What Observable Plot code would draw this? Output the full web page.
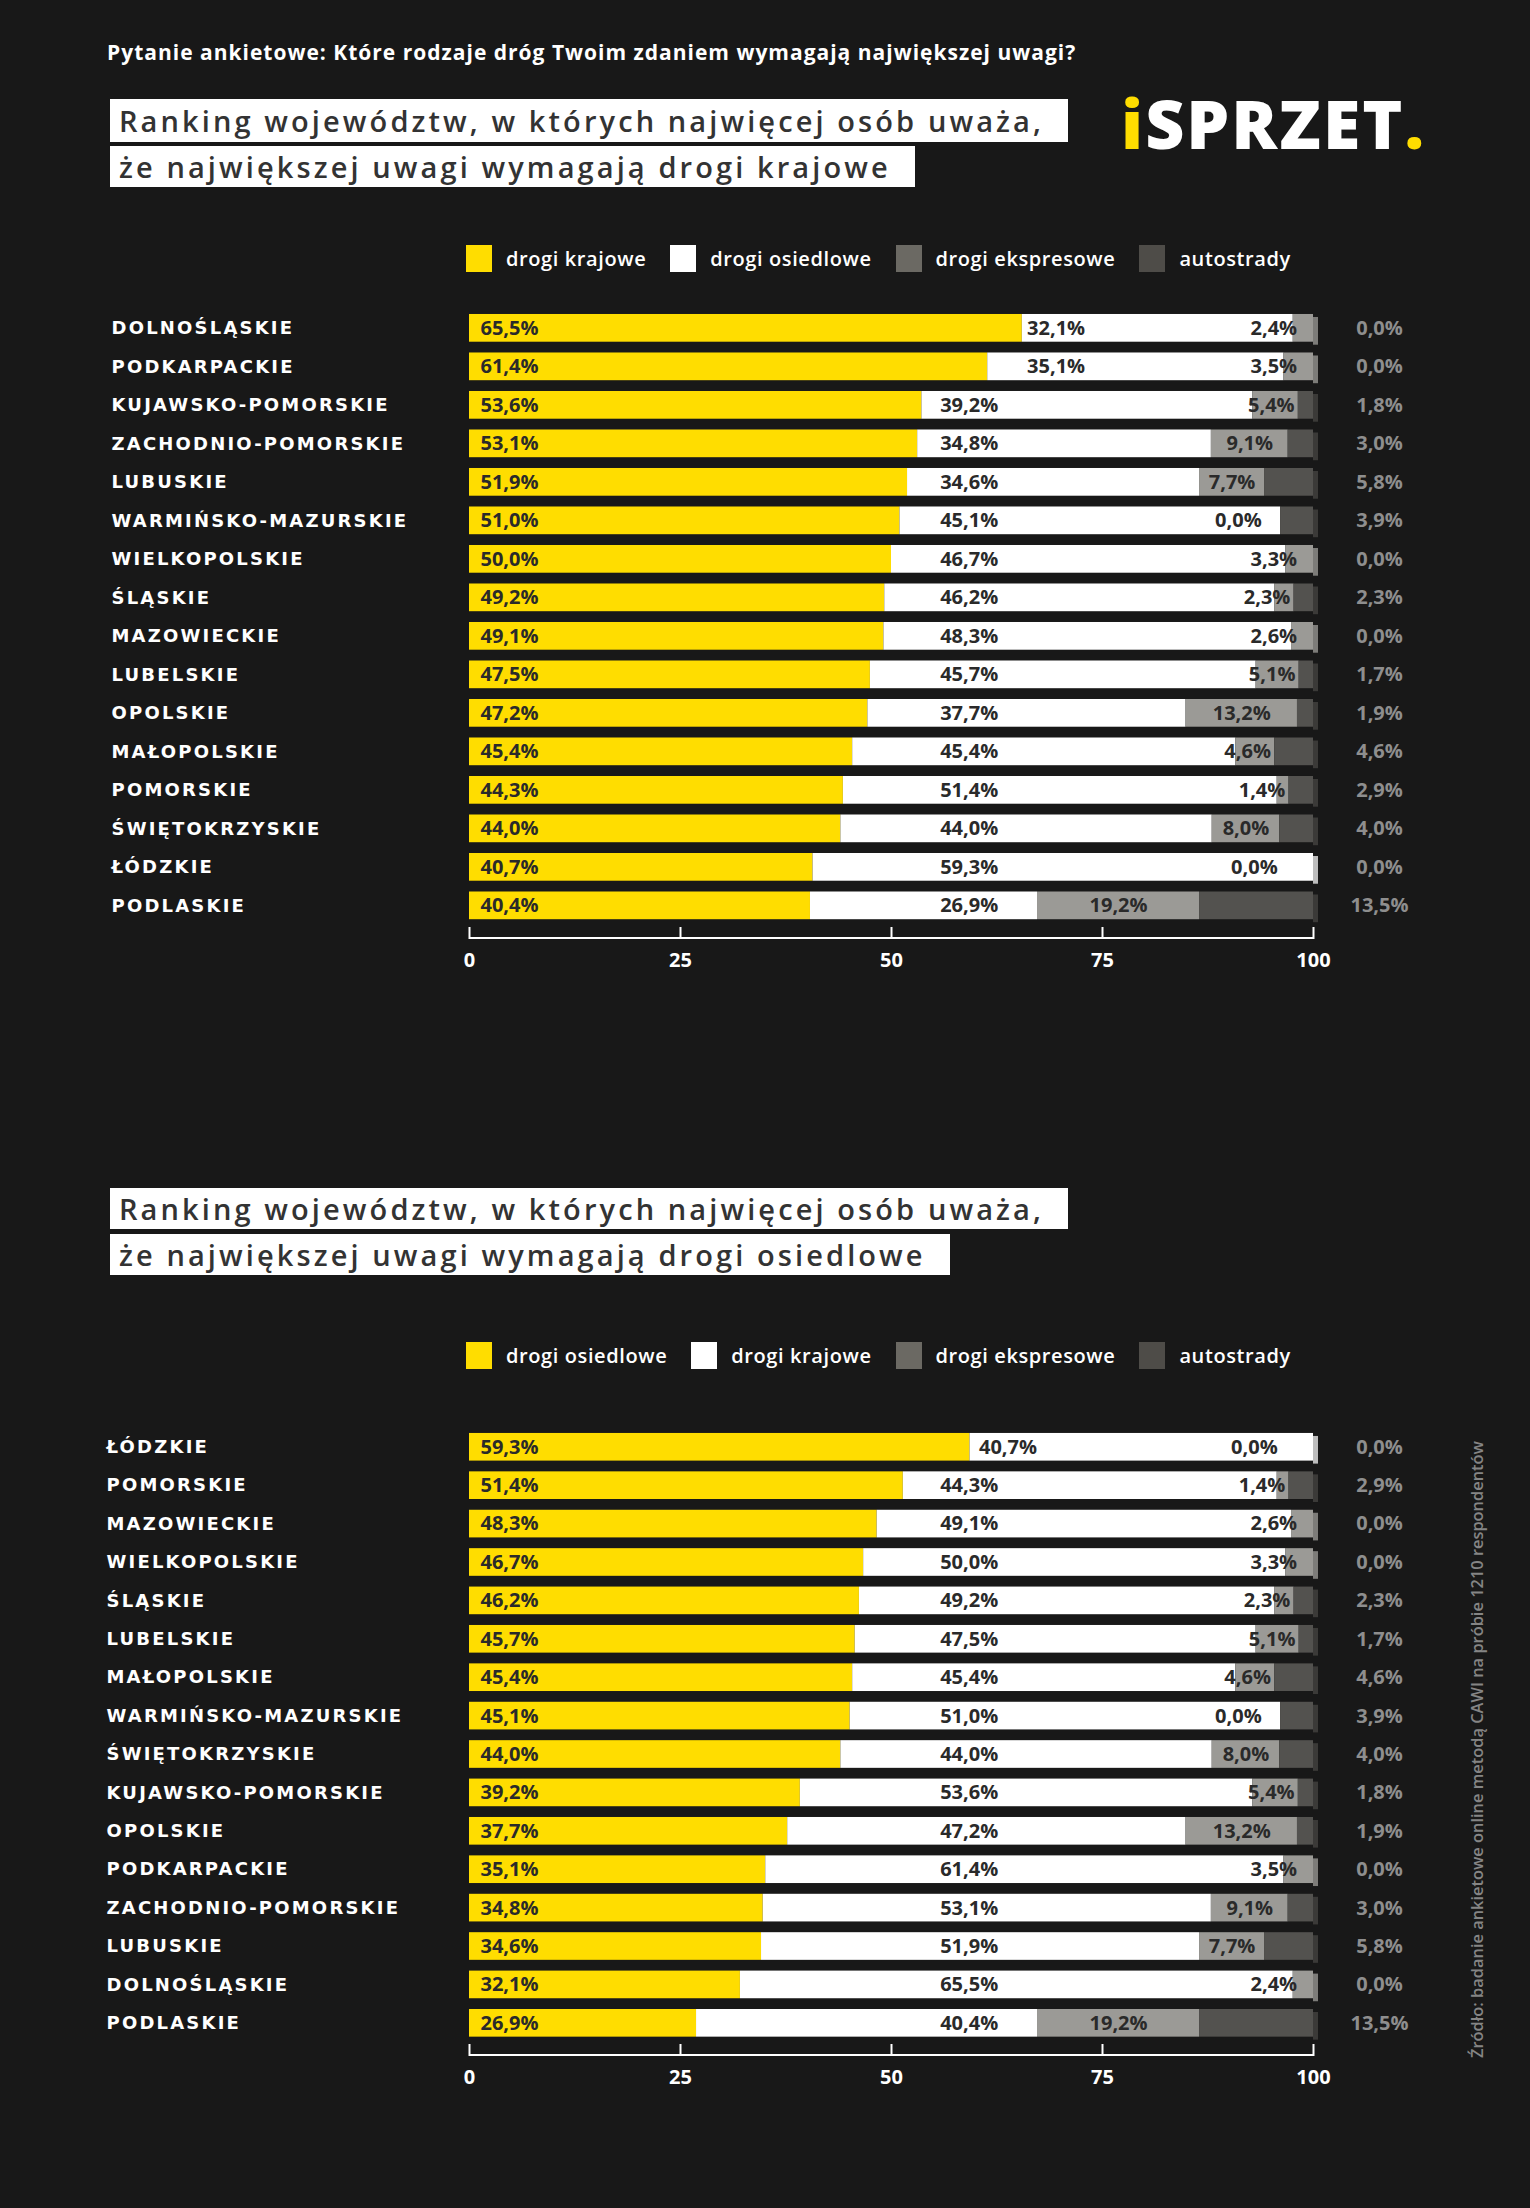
<!DOCTYPE html>
<html>
<head>
<meta charset="utf-8">
<script src="https://cdn.jsdelivr.net/npm/d3@7"></script>
<script src="https://cdn.jsdelivr.net/npm/@observablehq/plot@0.6"></script>
<style>
  html, body { margin: 0; padding: 0; background: #181818; }
  #page { position: relative; width: 1530px; height: 2208px; background: #181818; overflow: hidden; font-family: 'Open Sans', sans-serif; }
  .abs { position: absolute; }
  .subtitle { left: 107px; top: 38px; color: #fff; font-weight: 700; font-size: 21px; line-height: 28px; letter-spacing: 1px; white-space: nowrap; }
  .tbox { background: #fff; color: #333; font-family: 'Open Sans', sans-serif; font-weight: 600; font-size: 29px; letter-spacing: 3.1px; white-space: nowrap; padding: 0 24px 0 9px; box-sizing: border-box; display: flex; align-items: center; }
  .logo { left: 1121px; top: 89px; font-weight: 800; font-size: 68px; line-height: 68px; color: #fff; letter-spacing: 2px; white-space: nowrap; }
  .logo .y { color: #FFDD00; }
  .legend { display: flex; align-items: center; height: 27px; color: #fff; font-weight: 600; font-size: 20px; letter-spacing: 0.6px; white-space: nowrap; }
  .legend .sw { width: 26px; height: 27px; margin-right: 14px; }
  .legend .it { display: flex; align-items: center; margin-right: 24px; }
  .plotwrap { left: 0; }
  .source { color: #858585; font-weight: 600; font-size: 16.4px; line-height: 20px; white-space: nowrap; transform-origin: 0 0; transform: rotate(-90deg); }
</style>
</head>
<body>
<div id="page">
  <div class="abs subtitle">Pytanie ankietowe: Które rodzaje dróg Twoim zdaniem wymagają największej uwagi?</div>

  <div class="abs tbox" style="left:110px; top:99px; height:43px;">Ranking województw, w których najwięcej osób uważa,</div>
  <div class="abs tbox" style="left:110px; top:146px; height:41px;">że największej uwagi wymagają drogi krajowe</div>
  <div class="abs logo"><span class="y">i</span>SPRZET<span class="y">.</span></div>
  <div class="abs legend" id="legend1" style="left:466px; top:245px;"></div>
  <div class="abs plotwrap" id="chart1" style="top:290px;"></div>

  <div class="abs tbox" style="left:110px; top:1188px; height:41px;">Ranking województw, w których najwięcej osób uważa,</div>
  <div class="abs tbox" style="left:110px; top:1234px; height:41px;">że największej uwagi wymagają drogi osiedlowe</div>
  <div class="abs legend" id="legend2" style="left:466px; top:1342px;"></div>
  <div class="abs plotwrap" id="chart2" style="top:1410px;"></div>

  <div class="abs source" style="left:1467px; top:2058px;">Źródło: badanie ankietowe online metodą CAWI na próbie 1210 respondentów</div>
</div>
<script>
// ---- data ----
const regions = ["DOLNOŚLĄSKIE","PODKARPACKIE","KUJAWSKO-POMORSKIE","ZACHODNIO-POMORSKIE","LUBUSKIE","WARMIŃSKO-MAZURSKIE","WIELKOPOLSKIE","ŚLĄSKIE","MAZOWIECKIE","LUBELSKIE","OPOLSKIE","MAŁOPOLSKIE","POMORSKIE","ŚWIĘTOKRZYSKIE","ŁÓDZKIE","PODLASKIE"];
const krajowe    = [65.5,61.4,53.6,53.1,51.9,51.0,50.0,49.2,49.1,47.5,47.2,45.4,44.3,44.0,40.7,40.4];
const osiedlowe  = [32.1,35.1,39.2,34.8,34.6,45.1,46.7,46.2,48.3,45.7,37.7,45.4,51.4,44.0,59.3,26.9];
const ekspresowe = [2.4,3.5,5.4,9.1,7.7,0.0,3.3,2.3,2.6,5.1,13.2,4.6,1.4,8.0,0.0,19.2];
const autostrady = [0.0,0.0,1.8,3.0,5.8,3.9,0.0,2.3,0.0,1.7,1.9,4.6,2.9,4.0,0.0,13.5];
const seriesLabels = {krajowe: "drogi krajowe", osiedlowe: "drogi osiedlowe", ekspresowe: "drogi ekspresowe", autostrady: "autostrady"};
const xTicks = [0, 25, 50, 75, 100];
const chart1Keys = ["krajowe", "osiedlowe", "ekspresowe", "autostrady"];
const chart2Keys = ["osiedlowe", "krajowe", "ekspresowe", "autostrady"];

// ---- styles ----
const barColors = ["#FFDD00", "#FFFFFF", "#9B9A96", "#53524F"];
const legendColors = ["#FFDD00", "#FFFFFF", "#6B6963", "#4E4C48"];
const edgeColors = ["#c9b000", "#bdbdbd", "#7d7c79", "#3b3a38"];

const seriesData = {krajowe, osiedlowe, ekspresowe, autostrady};
const fmt = v => v.toFixed(1).replace(".", ",") + "%";

function build(keys) {
  const idx = regions.map((_, i) => i).sort((a, b) => seriesData[keys[0]][b] - seriesData[keys[0]][a]);
  const order = idx.map(i => regions[i]);
  const segs = [], rows = [];
  for (const i of idx) {
    let x = 0, last = 0;
    keys.forEach((k, j) => {
      const v = seriesData[k][i];
      segs.push({region: regions[i], key: k, j, v, x1: x, x2: x + v});
      x += v;
      if (v > 0) last = j;
    });
    rows.push({region: regions[i], total: x, auto: seriesData.autostrady[i], edge: edgeColors[last]});
  }
  return {order, segs, rows};
}

function labelX(s) {
  if (s.j === 1) return s.x1 > 60 ? 69.5 : Math.max(59.2, s.x1 + 4.5);
  if (s.v === 0) return Math.min(s.x1, 98) - 5;
  return Math.min((s.x1 + s.x2) / 2, s.x2 - 3.2, 95.3);
}

function legend(el, keys) {
  const node = document.getElementById(el);
  keys.forEach((k, j) => {
    const it = document.createElement("div");
    it.className = "it";
    it.innerHTML = `<div class="sw" style="background:${legendColors[j]}"></div><span>${seriesLabels[k]}</span>`;
    node.appendChild(it);
  });
}

function chart(el, keys, opts) {
  const {order, segs, rows} = build(keys);
  const H = opts.height, MT = 10, MB = opts.marginBottom;
  const frameH = H - MT - MB;
  const plot = Plot.plot({
    width: 1530,
    height: H,
    marginLeft: 469,
    marginRight: 217,
    marginTop: MT,
    marginBottom: MB,
    x: {domain: [0, 100], axis: null},
    y: {domain: order, range: opts.yRange, padding: 0.28, round: false, axis: null},
    color: {domain: keys, range: barColors},
    style: {background: "transparent", color: "#fff", fontFamily: "'Open Sans', sans-serif", overflow: "visible"},
    marks: [
      Plot.barX(rows, {x1: "total", x2: "total", y: "region", insetRight: -5, dy: 3, fill: "edge"}),
      Plot.barX(segs, {x1: "x1", x2: "x2", y: "region", fill: "key"}),
      Plot.text(segs.filter(s => s.j === 0), {x: "x1", y: "region", text: d => fmt(d.v), dx: 11, textAnchor: "start", fill: "#2a2a2a", fontSize: 20, fontWeight: 700}),
      Plot.text(segs.filter(s => s.j === 1 || s.j === 2), {x: labelX, y: "region", text: d => fmt(d.v), textAnchor: "middle", fill: "#2a2a2a", fontSize: 20, fontWeight: 700}),
      Plot.text(rows, {x: "total", y: "region", text: d => fmt(d.auto), dx: 66, textAnchor: "middle", fill: "#8e8e8e", fontSize: 20, fontWeight: 700}),
      Plot.text(rows, {y: "region", text: "region", frameAnchor: "left", dx: opts.labelDx, textAnchor: "start", fill: "#fff", fontSize: 18, fontWeight: 700, fontFamily: "'DejaVu Sans', sans-serif"}),
      Plot.barX([0], {x1: 0, x2: 100, insetTop: frameH - 2, fill: "#fff"}),
      Plot.tickX(xTicks, {x: d => d, stroke: "#fff", strokeWidth: 2, insetTop: frameH - 12}),
      Plot.axisX(xTicks, {anchor: "bottom", tickSize: 0, tickPadding: 13, color: "#fff", fontSize: 20, fontWeight: 700, tickFormat: d => String(d)})
    ]
  });
  // letter-spaced region names
  const names = new Set(regions);
  plot.querySelectorAll("text").forEach(t => {
    if (names.has(t.textContent)) t.setAttribute("letter-spacing", "2.2");
  });
  document.getElementById(el).appendChild(plot);
}

legend("legend1", chart1Keys);
legend("legend2", chart2Keys);
chart("chart1", chart1Keys, {height: 700, marginBottom: 51, yRange: [13.2, 640], labelDx: -358});
chart("chart2", chart2Keys, {height: 700, marginBottom: 54, yRange: [12.2, 637.4], labelDx: -363});
</script>
</body>
</html>
